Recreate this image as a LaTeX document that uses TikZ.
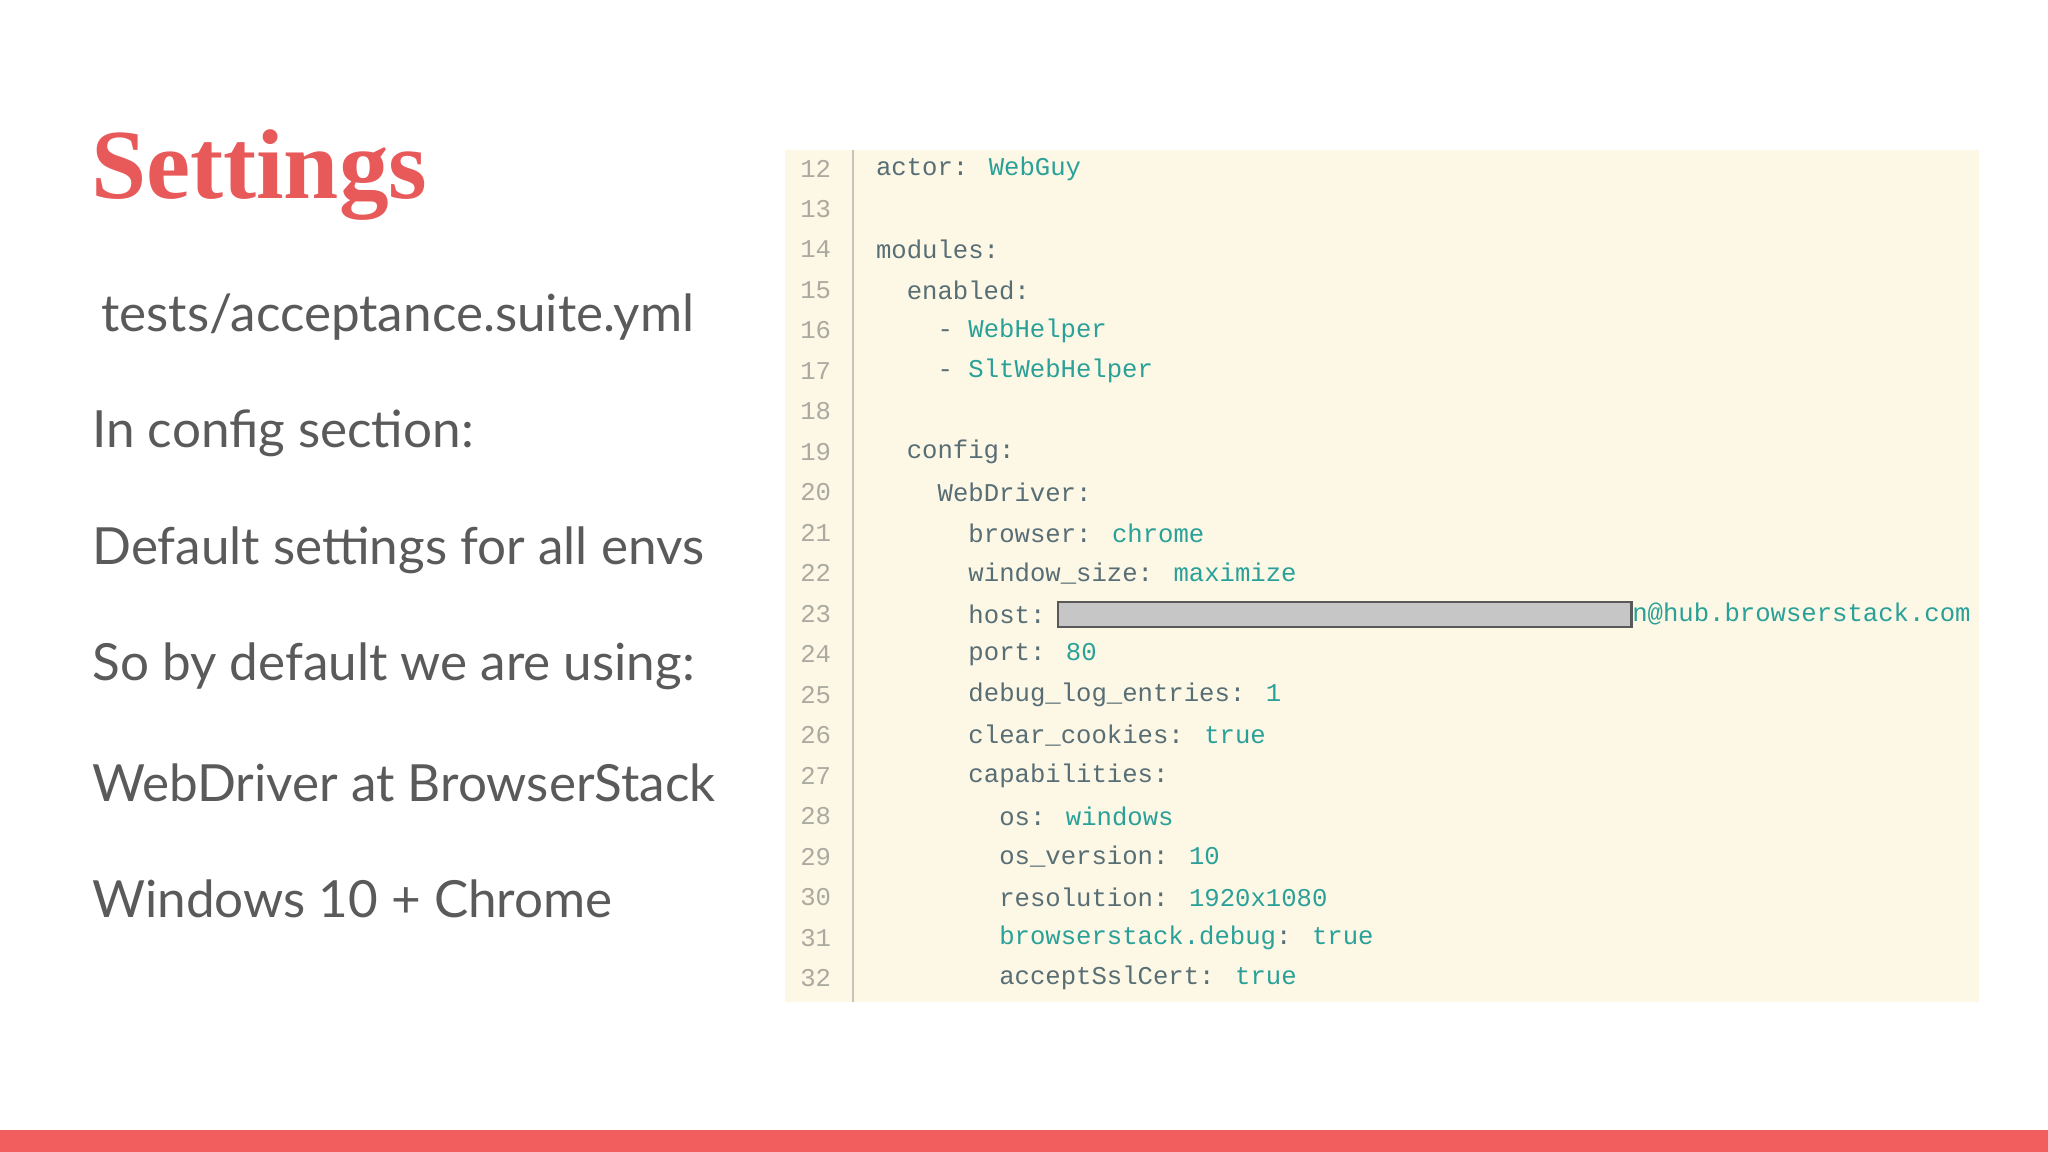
\documentclass[tikz,border=0pt]{standalone}
\usepackage{fontspec}
\setmainfont{Lato}
\newfontfamily\codefont{Liberation Mono}
\newfontfamily\titlefont{Liberation Serif}
\definecolor{titlered}{HTML}{E8595A}
\definecolor{barred}{HTML}{F25D5E}
\definecolor{bodygray}{HTML}{5A5A5A}
\definecolor{codebg}{HTML}{FDF7E6}
\definecolor{teal}{HTML}{2AA198}
\definecolor{codegray}{HTML}{586E75}
\definecolor{lnum}{HTML}{AAAAA0}
\newcommand{\tv}[1]{\textcolor{teal}{#1}}
\begin{document}
\begin{tikzpicture}[x=0.01cm,y=-0.01cm,
  body/.style={anchor=west,inner sep=0pt,text=bodygray,font=\fontsize{11.15}{13}\selectfont},
  ln/.style={anchor=east,inner sep=0pt,text=lnum,font=\codefont\fontsize{5.58}{6}\selectfont},
  code/.style={anchor=west,inner sep=0pt,text=codegray,font=\codefont\fontsize{5.58}{6}\selectfont}]
\useasboundingbox (0,0) rectangle (1568,882);
\fill[white] (0,0) rectangle (1568,882);
\fill[barred] (0,865) rectangle (1568,882);
\node[anchor=west,inner sep=0pt,text=titlered,font=\titlefont\bfseries\fontsize{21.6}{24}\selectfont] (title) at (69,134) {Settings};
\node[body] (t1) at (77,243) {tests/acceptance.suite.yml};
\node[body] (t2) at (70,332) {In config section:};
\node[body] (t3) at (70,421) {Default settings for all envs};
\node[body] (t4) at (70,510) {So by default we are using:};
\node[body] (t5) at (70,599) {WebDriver at BrowserStack};
\node[body] (t6) at (70,688) {Windows 10 + Chrome};
\fill[codebg] (601,115) rectangle (1515,767);
\draw[lnum!70,line width=0.5pt] (653,115) -- (653,767);
\foreach \n [count=\i from 0] in {12,...,32} {
  \node[ln] (l\n) at (637,129+31*\i) {\n};
}
\def\cs{11.8}
\node[code] at (670,129) {actor: \tv{WebGuy}};
\node[code] at (670,191) {modules:};
\node[code] at (670+2*\cs,222) {enabled:};
\node[code] at (670+4*\cs,253) {- \tv{WebHelper}};
\node[code] at (670+4*\cs,284) {- \tv{SltWebHelper}};
\node[code] at (670+2*\cs,346) {config:};
\node[code] at (670+4*\cs,377) {WebDriver:};
\node[code] at (670+6*\cs,408) {browser: \tv{chrome}};
\node[code] at (670+6*\cs,439) {window\_size: \tv{maximize}};
\node[code] at (670+6*\cs,470) {host:};
\draw[fill=gray!45,draw=gray!70!black,line width=0.6pt] (810,461) rectangle (1249,480);
\node[code] at (1249,470) {\tv{n@hub.browserstack.com}};
\node[code] at (670+6*\cs,501) {port: \tv{80}};
\node[code] at (670+6*\cs,532) {debug\_log\_entries: \tv{1}};
\node[code] at (670+6*\cs,563) {clear\_cookies: \tv{true}};
\node[code] at (670+6*\cs,594) {capabilities:};
\node[code] at (670+8*\cs,625) {os: \tv{windows}};
\node[code] at (670+8*\cs,656) {os\_version: \tv{10}};
\node[code] at (670+8*\cs,687) {resolution: \tv{1920x1080}};
\node[code] at (670+8*\cs,718) {\tv{browserstack.debug}: \tv{true}};
\node[code] at (670+8*\cs,749) {acceptSslCert: \tv{true}};
\end{tikzpicture}
\end{document}
